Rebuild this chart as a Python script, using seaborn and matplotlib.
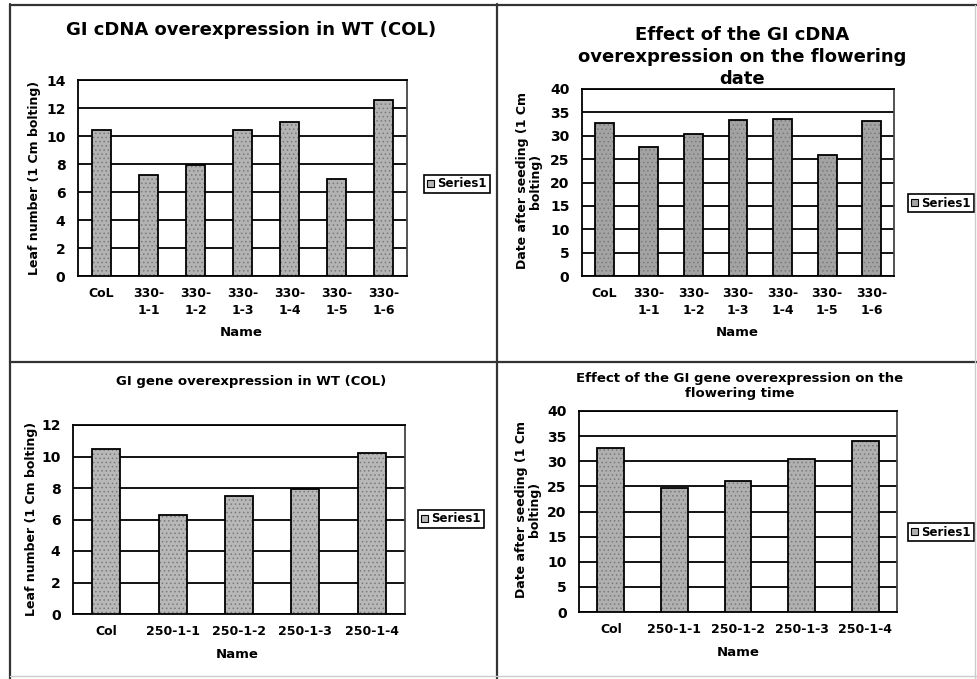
import matplotlib
matplotlib.use("Agg")
import matplotlib.pyplot as plt
import seaborn as sns
from matplotlib.patches import Rectangle, Patch
from matplotlib.lines import Line2D

# ---- data ----
cdna_lines = ["CoL", "330-1-1", "330-1-2", "330-1-3", "330-1-4", "330-1-5", "330-1-6"]
cdna_ticklabels = ["CoL", "330-\n1-1", "330-\n1-2", "330-\n1-3", "330-\n1-4", "330-\n1-5", "330-\n1-6"]
cdna_leaf_number = [10.4, 7.25, 7.9, 10.4, 11.0, 6.9, 12.6]
cdna_days = [32.7, 27.6, 30.4, 33.4, 33.6, 25.9, 33.2]

gene_lines = ["Col", "250-1-1", "250-1-2", "250-1-3", "250-1-4"]
gene_ticklabels = ["Col", "250-1-1", "250-1-2", "250-1-3", "250-1-4"]
gene_leaf_number = [10.5, 6.3, 7.5, 7.95, 10.25]
gene_days = [32.7, 24.65, 26.05, 30.4, 34.0]

leaf_ticks = [0, 2, 4, 6, 8, 10, 12, 14]
leaf_ticks_small = [0, 2, 4, 6, 8, 10, 12]
day_ticks = [0, 5, 10, 15, 20, 25, 30, 35, 40]

sns.set_theme(style="white")
plt.rcParams["font.family"] = ["DejaVu Sans"]
plt.rcParams["font.weight"] = "bold"
plt.rcParams["hatch.linewidth"] = 0.6
for key in ("text.color", "axes.labelcolor", "xtick.color", "ytick.color"):
    plt.rcParams[key] = "black"

W, H = 977, 679
fig = plt.figure(figsize=(W / 100, H / 100), dpi=100)
fig.patch.set_facecolor("white")


def fx(x):
    return x / W


def fy(y):
    return 1 - y / H


def px_axes(l, t, r, b):
    return fig.add_axes([fx(l), fy(b), (r - l) / W, (b - t) / H])


panels = [
    dict(rect=(78, 80, 407, 276), cats=cdna_lines, labels=cdna_ticklabels,
         vals=cdna_leaf_number, ticks=leaf_ticks,
         title="GI cDNA overexpression in WT (COL)", title_xy=(251, 30), title_fs=13,
         title_ls=1.0,
         ylabel="Leaf number (1 Cm bolting)", ylabel_xy=(35, 178), ylabel_fs=9,
         xlabel_xy=(241, 333), legend_xy=(424, 184), color="#b3b3b3"),
    dict(rect=(582, 89, 894, 276), cats=cdna_lines, labels=cdna_ticklabels,
         vals=cdna_days, ticks=day_ticks,
         title="Effect of the GI cDNA\noverexpression on the flowering\ndate",
         title_xy=(742, 57), title_fs=13, title_ls=1.27,
         ylabel="Date after seeding (1 Cm\nbolting)", ylabel_xy=(529, 181), ylabel_fs=9,
         xlabel_xy=(737, 333), legend_xy=(908, 203), color="#a3a3a3"),
    dict(rect=(73, 425, 405, 614), cats=gene_lines, labels=gene_ticklabels,
         vals=gene_leaf_number, ticks=leaf_ticks_small,
         title="GI gene overexpression in WT (COL)", title_xy=(251, 382), title_fs=9.5,
         title_ls=1.0,
         ylabel="Leaf number (1 Cm bolting)", ylabel_xy=(32, 519), ylabel_fs=9,
         xlabel_xy=(237, 655), legend_xy=(418, 519), color="#b8b8b8"),
    dict(rect=(579, 411, 897, 612), cats=gene_lines, labels=gene_ticklabels,
         vals=gene_days, ticks=day_ticks,
         title="Effect of the GI gene overexpression on the\nflowering time",
         title_xy=(740, 386), title_fs=9.5, title_ls=1.15,
         ylabel="Date after seeding (1 Cm\nbolting)", ylabel_xy=(528, 509), ylabel_fs=9,
         xlabel_xy=(738, 653), legend_xy=(908, 532), color="#b0b0b0"),
]

for p in panels:
    ax = px_axes(*p["rect"])
    n = len(p["cats"])
    sns.barplot(x=p["cats"], y=p["vals"], ax=ax, color=p["color"], saturation=1,
                width=0.42, edgecolor="#7a7a7a", linewidth=0, hatch="....",
                zorder=3)
    # crisp black outline on top of the speckled fill
    for bar in list(ax.patches):
        ax.add_patch(Rectangle(bar.get_xy(), bar.get_width(), bar.get_height(),
                               fill=False, edgecolor="black", linewidth=1.3, zorder=4))
    ax.set_xlim(-0.5, n - 0.5)
    ax.set_ylim(p["ticks"][0], p["ticks"][-1])
    ax.set_yticks(p["ticks"])
    ax.set_yticklabels([str(t) for t in p["ticks"]], fontsize=10, fontweight="bold")
    ax.set_xticks(range(n))
    ax.set_xticklabels(p["labels"], fontsize=9, fontweight="bold", linespacing=1.35)
    ax.set_xticks([i - 0.5 for i in range(n + 1)], minor=True)
    ax.tick_params(axis="x", which="major", length=0, pad=8)
    ax.tick_params(axis="x", which="minor", length=3, width=1, color="#555555",
                   direction="out")
    ax.tick_params(axis="y", which="major", length=4, width=1.2, color="black",
                   direction="out", pad=5)
    ax.yaxis.grid(True, color="black", linewidth=1.3, zorder=0)
    ax.set_axisbelow(True)
    for s in ax.spines.values():
        s.set_visible(True)
        s.set_color("black")
        s.set_linewidth(1.3)
    ax.spines["right"].set_color("#444444")
    ax.set_xlabel("")
    ax.set_ylabel("")

    fig.text(fx(p["title_xy"][0]), fy(p["title_xy"][1]), p["title"], ha="center",
             va="center", fontsize=p["title_fs"], fontweight="bold",
             linespacing=p["title_ls"])
    fig.text(fx(p["ylabel_xy"][0]), fy(p["ylabel_xy"][1]), p["ylabel"], ha="center",
             va="center", rotation=90, fontsize=p["ylabel_fs"], fontweight="bold",
             linespacing=1.05)
    fig.text(fx(p["xlabel_xy"][0]), fy(p["xlabel_xy"][1]), "Name", ha="center",
             va="center", fontsize=9.5, fontweight="bold")

    handle = Patch(facecolor=p["color"], edgecolor="black", linewidth=0.8)
    ax.legend([handle], ["Series1"], loc="center left",
              bbox_to_anchor=(fx(p["legend_xy"][0]), fy(p["legend_xy"][1])),
              bbox_transform=fig.transFigure, frameon=True, fancybox=False,
              edgecolor="black", framealpha=1, handlelength=0.6,
              handleheight=0.6, handletextpad=0.3, borderpad=0.25,
              borderaxespad=0, prop={"weight": "bold", "size": 8.5})
    ax.get_legend().get_frame().set_linewidth(1.2)

# frames separating the four charts
frame_lines = [
    ((10, 10), (4, 679), "#333333", 1.6),
    ((10, 977), (5, 5), "#333333", 1.6),
    ((497, 497), (4, 679), "#333333", 1.6),
    ((10, 977), (362, 362), "#333333", 1.6),
    ((975, 975), (5, 679), "#cccccc", 1.0),
    ((10, 977), (676, 676), "#cccccc", 1.0),
]
for xs, ys, c, lw in frame_lines:
    fig.add_artist(Line2D([fx(x) for x in xs], [fy(y) for y in ys],
                          transform=fig.transFigure, color=c, linewidth=lw))

fig.savefig("out.png", dpi=100, facecolor="white")
